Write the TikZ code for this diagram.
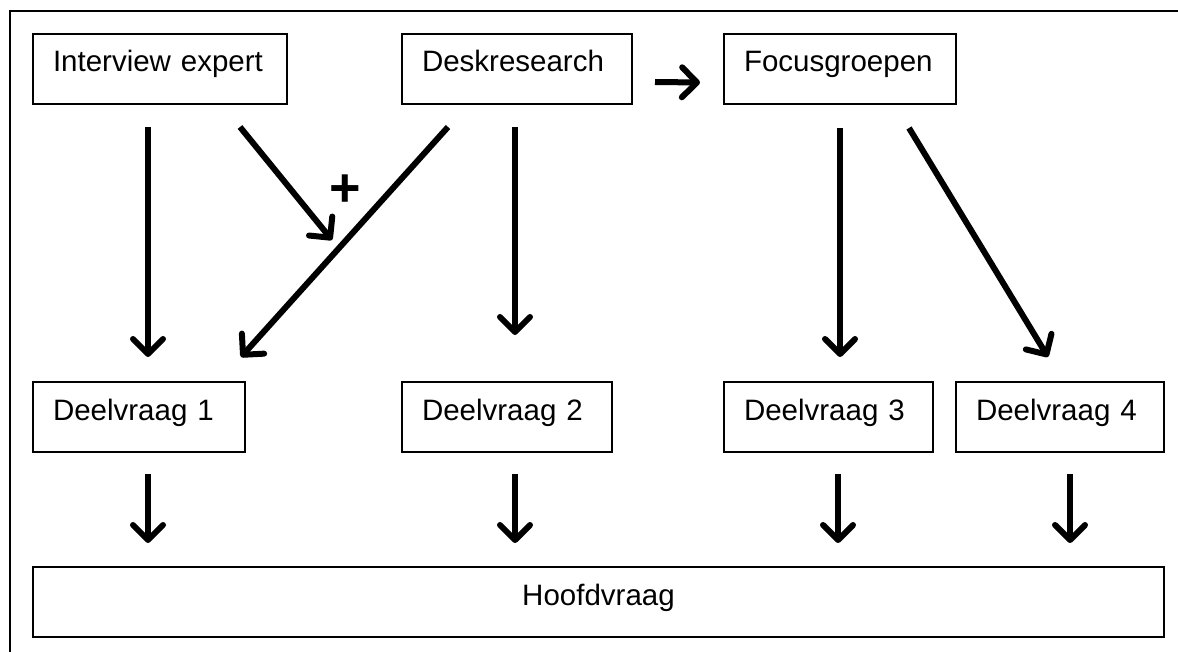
\documentclass[tikz,border=0pt]{standalone}
\usepackage{fontspec}
\setmainfont{Liberation Sans}
\usetikzlibrary{arrows.meta}
\tikzset{
  vak/.style={draw, line width=1.8pt, outer sep=0pt, anchor=north west, align=left,
    inner xsep=20pt, inner ysep=4pt, text height=34pt, text depth=28pt,
    font=\fontsize{29.5}{35}\selectfont},
  pijl/.style={line width=6pt, -{Straight Barb[length=15pt,width=30pt,round]}},
}
\begin{document}
\begin{tikzpicture}[x=1pt,y=-1pt]

    \useasboundingbox (0,0) rectangle (1178,652);
    \draw [line width=2pt] (1178,11) -- (10,11) -- (10,652);

    \node [vak, text width=214pt] (ie) at (33,34) {Interview expert};
    \node [vak, text width=190pt] (desk) at (402,34) {Deskresearch};
    \node [vak, text width=192pt] (focus) at (724,34) {Focusgroepen};

    \node [vak, text width=172pt] (dv1) at (33,382) {Deelvraag 1};
    \node [vak, text width=170pt] (dv2) at (402,382) {Deelvraag 2};
    \node [vak, text width=169pt] (dv3) at (724,382) {Deelvraag 3};
    \node [vak, text width=168pt] (dv4) at (956,382) {Deelvraag 4};

    \node [vak, text width=1091pt, align=center] (hoofd) at (33,567) {Hoofdvraag};

    \node [font=\fontsize{54}{56}\bfseries] (plus) at (345,191) {+};

    \draw [pijl] ([xshift=-12pt,yshift=-23pt]ie.south) -- ([xshift=9pt,yshift=25pt]dv1.north);
    \draw [pijl] ([xshift=80pt,yshift=-23pt]ie.south) -- ([xshift=-13pt,yshift=-49pt]plus.center);
    \draw [pijl] ([xshift=-69pt,yshift=-23pt]desk.south) -- ([xshift=-4pt,yshift=25pt]dv1.north east);
    \draw [pijl] ([xshift=-2pt,yshift=-23pt]desk.south) -- ([xshift=8pt,yshift=47pt]dv2.north);
    \draw [pijl] ([xshift=23pt,yshift=-13pt]desk.east) -- ([xshift=-24pt,yshift=-13.5pt]focus.west);
    \draw [pijl] ([yshift=-24pt]focus.south) -- ([xshift=11.5pt,yshift=25pt]dv3.north);
    \draw [pijl] ([xshift=69pt,yshift=-24pt]focus.south) -- ([xshift=-12pt,yshift=25pt]dv4.north);

    \foreach \d/\s in {dv1/9,dv2/8,dv3/9.5,dv4/10}
    {
        \path ([xshift=\s pt]\d.south) coordinate (\d-uit);
        \draw [pijl, shorten <=22pt, shorten >=24pt] (\d-uit) -- (\d-uit |- hoofd.north);
    }

\end{tikzpicture}
\end{document}
